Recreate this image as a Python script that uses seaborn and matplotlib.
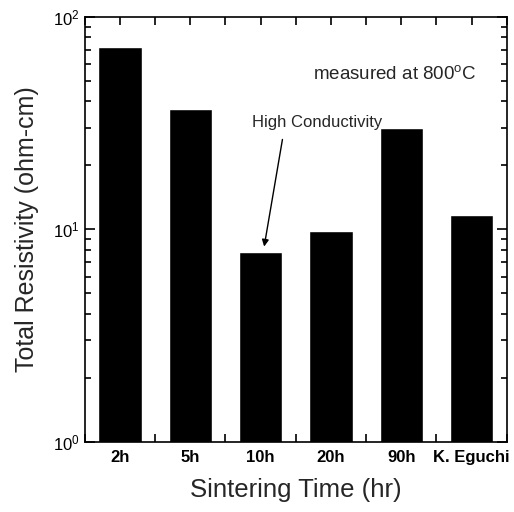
import matplotlib
matplotlib.use("Agg")
import matplotlib.pyplot as plt
import seaborn as sns
import pandas as pd
from matplotlib.ticker import LogLocator, FixedLocator

# values
times = ["2h", "5h", "10h", "20h", "90h", "K. Eguchi"]
resistivity = [72.0, 37.0, 7.85, 9.85, 30.0, 11.7]

df = pd.DataFrame({"time": times, "resistivity": resistivity})

sns.set_style("ticks")
plt.rcParams['font.family'] = ['Liberation Sans', 'DejaVu Sans']
plt.rcParams['mathtext.fontset'] = 'custom'
plt.rcParams['mathtext.rm'] = 'Liberation Sans'

fig = plt.figure(figsize=(5.14, 5.12), dpi=100)
ax = fig.add_axes([0.165, 0.137, 0.821, 0.830])

sns.barplot(data=df, x="time", y="resistivity", color="black",
            saturation=1, width=0.62, ax=ax)

ax.set_yscale("log")
ax.set_ylim(1, 100)

ax.yaxis.set_major_locator(LogLocator(base=10, numticks=5))
ax.yaxis.set_minor_locator(LogLocator(base=10, subs=range(2, 10), numticks=10))
ax.xaxis.set_minor_locator(FixedLocator([i + 0.5 for i in range(-1, 6)]))

ax.tick_params(axis="both", which="both", direction="in",
               top=True, bottom=True, left=True, right=True,
               colors="black", width=1.2)
ax.tick_params(axis="y", which="major", length=7, labelsize=12)
ax.tick_params(axis="y", which="minor", length=4)
ax.tick_params(axis="x", which="both", length=6, pad=6, labelsize=12)
for lab in ax.get_xticklabels():
    lab.set_fontweight("bold")

for sp in ax.spines.values():
    sp.set_linewidth(1.2)
    sp.set_color("black")

ax.set_xlabel("Sintering Time (hr)", fontsize=18.5, labelpad=9)
ax.set_ylabel("Total Resistivity (ohm-cm)", fontsize=18, labelpad=10)

ax.text(0.735, 0.864, r"measured at 800$^{\rm o}$C", transform=ax.transAxes,
        ha="center", va="center", fontsize=13.5)
ax.text(2.8, 31.7, "High Conductivity", ha="center", va="center", fontsize=12)
ax.annotate("", xy=(2.05, 8.3), xytext=(2.31, 26.5),
            arrowprops=dict(arrowstyle="-|>", color="black", lw=1,
                            shrinkA=0, shrinkB=0, mutation_scale=10))

fig.savefig("out.png", dpi=100)
